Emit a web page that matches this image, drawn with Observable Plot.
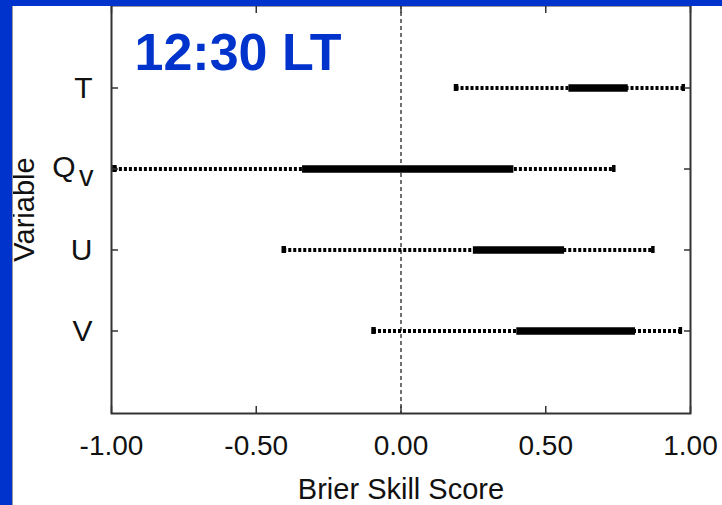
<!DOCTYPE html>
<html>
<head>
<meta charset="utf-8">
<script src="https://cdn.jsdelivr.net/npm/d3@7"></script>
<script src="https://cdn.jsdelivr.net/npm/@observablehq/plot@0.6"></script>
<style>
  html, body { margin: 0; padding: 0; background: #ffffff; }
  #wrap { position: relative; width: 722px; height: 505px; overflow: hidden; background: #fff; }
  #wrap svg { position: absolute; left: 0; top: 0; }
  .strip { position: absolute; background: #0033cc; }
</style>
</head>
<body>
<div id="wrap"></div>
<script>
// ---- data ----
const variables = ["T", "Qv", "U", "V"];
const labelMain = ["T", "Q", "U", "V"];
const labelSub  = ["", "v", "", ""];
const minVals = [0.19, -0.99, -0.405, -0.095];
const q1Vals  = [0.58, -0.34, 0.25, 0.40];
const q3Vals  = [0.785, 0.39, 0.565, 0.81];
const maxVals = [0.975, 0.735, 0.87, 0.965];
const xTicks = [-1, -0.5, 0, 0.5, 1];
const title = "12:30 LT";
const xLabel = "Brier Skill Score";
const yLabel = "Variable";

const data = variables.map((v, i) => ({
  v, main: labelMain[i], sub: labelSub[i],
  min: minVals[i], q1: q1Vals[i], q3: q3Vals[i], max: maxVals[i]
}));

const font = "Liberation Sans, Arial, Helvetica, sans-serif";
const fmt = d => d.toFixed(2);

const chart = Plot.plot({
  width: 722,
  height: 505,
  marginLeft: 111,
  marginRight: 32,
  marginTop: 5,
  marginBottom: 92,
  style: { background: "#ffffff", fontFamily: font, color: "#111" },
  x: { domain: [-1, 1], axis: null },
  y: { type: "band", domain: variables, paddingInner: 0.91, paddingOuter: 0.955, axis: null },
  marks: [
    Plot.ruleX([0], { stroke: "#111", strokeWidth: 1.2, strokeDasharray: "4,3" }),
    // whiskers (dotted)
    Plot.ruleY(data, { y: "v", x1: "min", x2: "max", stroke: "#000", strokeWidth: 4, strokeDasharray: "3,2" }),
    // interquartile bar
    Plot.ruleY(data, { y: "v", x1: "q1", x2: "q3", stroke: "#000", strokeWidth: 7.5 }),
    // end caps
    Plot.tickX(data, { x: "min", y: "v", stroke: "#000", strokeWidth: 4.5 }),
    Plot.tickX(data, { x: "max", y: "v", stroke: "#000", strokeWidth: 3.5 }),
    // inward ticks
    Plot.axisX(xTicks, { anchor: "bottom", tickSize: -7, tickFormat: () => "", label: null, stroke: "#333", strokeWidth: 1.5 }),
    Plot.axisX(xTicks, { anchor: "top", tickSize: -7, tickFormat: () => "", label: null, stroke: "#333", strokeWidth: 1.5 }),
    Plot.axisY(variables, { anchor: "left", tickSize: -7, tickFormat: () => "", label: null, stroke: "#333", strokeWidth: 1.5 }),
    Plot.axisY(variables, { anchor: "right", tickSize: -7, tickFormat: () => "", label: null, stroke: "#333", strokeWidth: 1.5 }),
    Plot.frame({ stroke: "#333", strokeWidth: 2 }),
    // x tick labels
    Plot.text(xTicks, { x: d => d, text: d => fmt(d), frameAnchor: "bottom", lineAnchor: "bottom", dy: 41, fontSize: 28, fill: "#111" }),
    // axis titles
    Plot.text([xLabel], { frameAnchor: "bottom", lineAnchor: "bottom", dy: 85, fontSize: 29, fill: "#111" }),
    Plot.text([yLabel], { frameAnchor: "left", dx: -87, rotate: -90, textAnchor: "middle", lineAnchor: "middle", fontSize: 29, fill: "#111" }),
    // y labels
    Plot.text(data.filter(d => !d.sub), { y: "v", text: "main", frameAnchor: "left", textAnchor: "end", dx: -19, fontSize: 30, fill: "#111" }),
    Plot.text(data.filter(d => d.sub), { y: "v", text: "main", frameAnchor: "left", textAnchor: "end", dx: -36, dy: -2, fontSize: 30, fill: "#111" }),
    Plot.text(data.filter(d => d.sub), { y: "v", text: "sub", frameAnchor: "left", textAnchor: "end", dx: -18, dy: 8, fontSize: 29, fill: "#111" }),
    // panel title
    Plot.text([title], { frameAnchor: "top-left", textAnchor: "start", lineAnchor: "top", dx: 23, dy: 28, fontSize: 52, fontWeight: "bold", fill: "#0033cc" })
  ]
});

const wrap = document.getElementById("wrap");
wrap.appendChild(chart);
const stripTop = document.createElement("div");
stripTop.className = "strip";
Object.assign(stripTop.style, { left: "0px", top: "0px", width: "722px", height: "6px" });
const stripLeft = document.createElement("div");
stripLeft.className = "strip";
Object.assign(stripLeft.style, { left: "0px", top: "0px", width: "12px", height: "505px" });
const stripEdge = document.createElement("div");
Object.assign(stripEdge.style, { position: "absolute", left: "12px", top: "6px", width: "1px", height: "499px", background: "#9a9a9a" });
wrap.appendChild(stripTop);
wrap.appendChild(stripLeft);
wrap.appendChild(stripEdge);
</script>
</body>
</html>
